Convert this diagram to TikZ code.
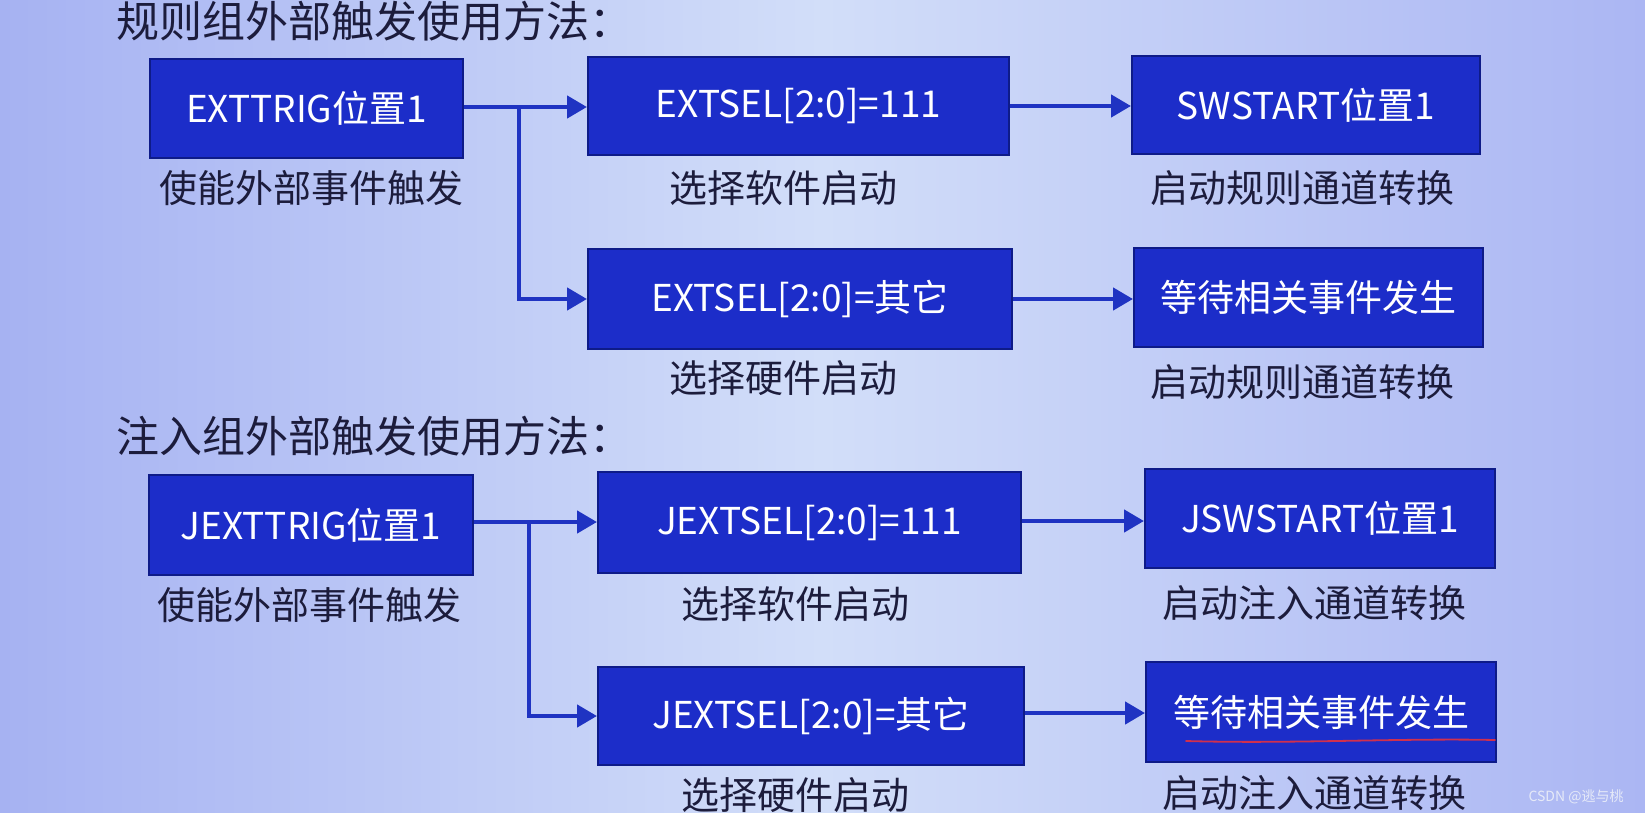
\documentclass[tikz,border=0pt]{standalone}
\usepackage{fontspec}
\setmainfont{Noto Sans CJK SC}
\usetikzlibrary{arrows.meta}
\definecolor{bgL}{HTML}{A6B2F2}
\definecolor{bgM}{HTML}{D2DEF9}
\definecolor{bgR}{HTML}{ABB6F3}
\definecolor{boxfill}{HTML}{1C2DC9}
\definecolor{boxline}{HTML}{0E1B88}
\definecolor{arrcol}{HTML}{1F33C2}
\definecolor{txt}{HTML}{1C1C3C}
\definecolor{redline}{HTML}{D0304E}
\definecolor{wm}{HTML}{E6EAF8}
\begin{document}
\begin{tikzpicture}[x=1pt,y=-1pt,
  bluebox/.style={draw=boxline,line width=2pt,fill=boxfill,inner sep=0pt,
    text=white,font=\fontsize{37}{42}\selectfont},
  lbl/.style={text=txt,inner sep=0pt,font=\fontsize{38}{42}\selectfont},
  ttl/.style={text=txt,inner sep=0pt,anchor=west,font=\fontsize{43}{46}\selectfont},
  arr/.style={draw=arrcol,line width=4.5pt,-{Triangle[length=20pt,width=22pt]}},
  brline/.style={draw=arrcol,line width=4.5pt}]
\useasboundingbox (0,0) rectangle (1645,813);
\shade[left color=bgL,right color=bgR,middle color=bgM] (0,0) rectangle (1645,813);
% titles
\node[ttl] (t1) at (116,21) {规则组外部触发使用方法：};
\node[ttl] (t2) at (116,436) {注入组外部触发使用方法：};
% regular group
\node[bluebox,minimum width=313pt,minimum height=99pt] (A1) at (306.5,108.5) {EXTTRIG位置1};
\node[lbl] (la1) at (311,188) {使能外部事件触发};
\node[bluebox,minimum width=421pt,minimum height=98pt] (B1) at (798.5,106) {EXTSEL[2:0]=111};
\node[lbl] (lb1) at (783,188) {选择软件启动};
\node[bluebox,minimum width=424pt,minimum height=100pt] (B2) at (800,299) {EXTSEL[2:0]=其它};
\node[lbl] (lb2) at (783,378) {选择硬件启动};
\node[bluebox,minimum width=348pt,minimum height=98pt] (C1) at (1306,105) {SWSTART位置1};
\node[lbl] (lc1) at (1302,188) {启动规则通道转换};
\node[bluebox,minimum width=349pt,minimum height=99pt] (C2) at (1308.5,297.5) {等待相关事件发生};
\node[lbl] (lc2) at (1302,382) {启动规则通道转换};
\coordinate (j1) at (519,107);
\draw[arr] (A1.east |- j1) -- (B1.west |- j1);
\draw[arr] (j1) |- (B2.west);
\draw[arr] (B1.east) -- (C1.west |- B1.east);
\draw[arr] (B2.east) -- (C2.west |- B2.east);
% injected group
\node[bluebox,minimum width=324pt,minimum height=100pt] (D1) at (311,525) {JEXTTRIG位置1};
\node[lbl] (ld1) at (309,605) {使能外部事件触发};
\node[bluebox,minimum width=423pt,minimum height=101pt] (E1) at (809.5,522.5) {JEXTSEL[2:0]=111};
\node[lbl] (le1) at (795,604) {选择软件启动};
\node[bluebox,minimum width=426pt,minimum height=98pt] (E2) at (811,716) {JEXTSEL[2:0]=其它};
\node[lbl] (le2) at (795,795) {选择硬件启动};
\node[bluebox,minimum width=350pt,minimum height=99pt] (F1) at (1320,518.5) {JSWSTART位置1};
\node[lbl] (lf1) at (1314,603) {启动注入通道转换};
\node[bluebox,minimum width=350pt,minimum height=100pt] (F2) at (1321,712) {等待相关事件发生};
\node[lbl] (lf2) at (1314,793) {启动注入通道转换};
\coordinate (j2) at (529,522);
\draw[arr] (D1.east |- j2) -- (E1.west |- j2);
\draw[arr] (j2) |- (E2.west);
\draw[arr] (E1.east |- 0,521) -- (F1.west |- 0,521);
\draw[arr] (E2.east |- 0,713) -- (F2.west |- 0,713);
% red hand-drawn underline
\coordinate (r1) at (1186,741);
\coordinate (r2) at (1495,740);
\draw[redline,line width=1.8pt,line cap=round] (r1) .. controls (1290,744) and (1400,738) .. (r2);
% watermark
\node[text=wm,inner sep=0pt,font=\fontsize{14}{16}\selectfont] (wmk) at (1576,797) {CSDN @逃与桃};
\end{tikzpicture}
\end{document}
